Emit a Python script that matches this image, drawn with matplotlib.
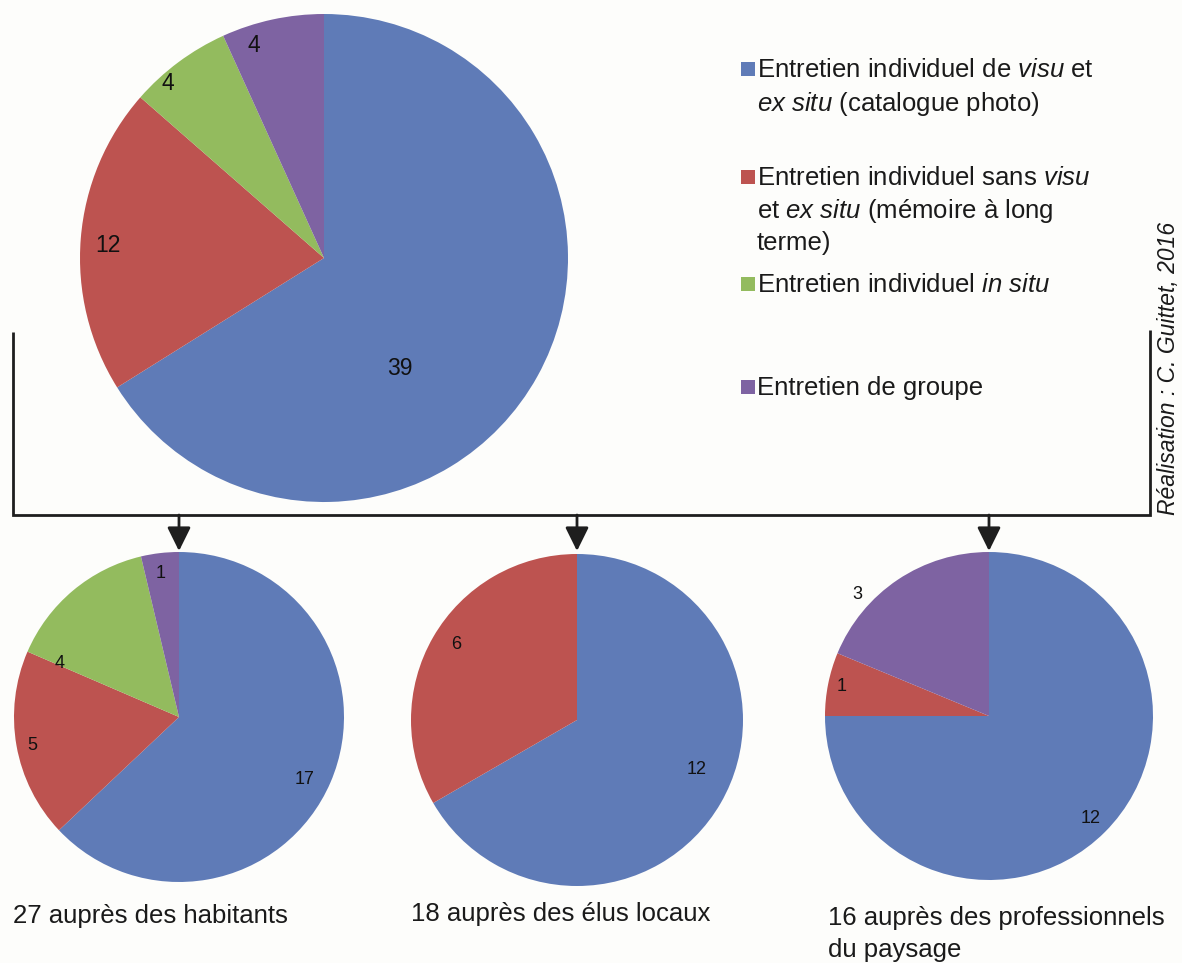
import matplotlib
matplotlib.use("Agg")
import matplotlib.pyplot as plt

plt.rcParams['font.family'] = ['Liberation Sans', 'DejaVu Sans']
plt.rcParams['mathtext.fontset'] = 'custom'
plt.rcParams['mathtext.rm'] = 'Liberation Sans'
plt.rcParams['mathtext.it'] = 'Liberation Sans:italic'

# ---------------- data ----------------
categories = [
    "Entretien individuel de visu et ex situ (catalogue photo)",
    "Entretien individuel sans visu et ex situ (mémoire à long terme)",
    "Entretien individuel in situ",
    "Entretien de groupe",
]
total_values = [39, 12, 4, 4]
habitants_values = [17, 5, 4, 1]
elus_values = [12, 6, 0, 0]
pro_values = [12, 1, 0, 3]
captions = ["27 auprès des habitants", "18 auprès des élus locaux",
            "16 auprès des professionnels", "du paysage"]
credit = "Réalisation : C. Guittet, 2016"

colors = ["#5F7BB7", "#BD5350", "#93BB5E", "#7E63A2"]
BG = "#FDFDFB"

W, H = 1182, 963
fig = plt.figure(figsize=(W / 100, H / 100), dpi=100, facecolor=BG)
ax = fig.add_axes([0, 0, 1, 1])
ax.set_facecolor(BG)


def Y(y):
    return H - y


def draw_pie(values, cx, cy, r, label_pos, fs):
    ax.pie(values, colors=colors, startangle=90, counterclock=False,
           center=(cx, Y(cy)), radius=r, frame=True,
           wedgeprops=dict(linewidth=0))
    for v, pos in zip(values, label_pos):
        if v > 0 and pos is not None:
            ax.text(pos[0], Y(pos[1]), str(v), fontsize=fs, color="#111111",
                    ha="center", va="center")


draw_pie(total_values, 324, 258, 244,
         [(400, 368), (108, 245), (168, 83), (254, 45)], 16.5)
draw_pie(habitants_values, 179, 717, 165,
         [(305, 779), (32, 745), (60, 663), (161, 573)], 13)
draw_pie(elus_values, 577, 720, 166,
         [(697, 769), (456, 644), None, None], 13)
draw_pie(pro_values, 989, 716, 164,
         [(1091, 818), (842, 686), None, (857, 594)], 13)

# bracket and arrows
lc = "#1E1E1E"
ax.plot([13, 13, 1150, 1150], [Y(332), Y(515), Y(515), Y(330)],
        color=lc, lw=2.0, solid_joinstyle="miter", solid_capstyle="butt")
for x in (179, 577, 989):
    ax.annotate("", xy=(x, Y(551)), xytext=(x, Y(515)),
                arrowprops=dict(arrowstyle="-|>,head_length=0.85,head_width=0.42",
                                color=lc, lw=2.0, mutation_scale=17,
                                shrinkA=0, shrinkB=0))

# legend
legend_lines = [
    (77, r"Entretien individuel de $\mathit{visu}$ et"),
    (111, r"$\mathit{ex\ situ}$ (catalogue photo)"),
    (185, r"Entretien individuel sans $\mathit{visu}$"),
    (218, r"et $\mathit{ex\ situ}$ (mémoire à long"),
    (250, r"terme)"),
    (292, r"Entretien individuel $\mathit{in\ situ}$"),
    (395, r"Entretien de groupe"),
]
for yb, s in legend_lines:
    ax.text(757, Y(yb), s, fontsize=18.5, color="#1A1A1A", ha="left",
            va="baseline")
square_y = [69, 177, 284, 387]
for c, yc in zip(colors, square_y):
    ax.add_patch(plt.Rectangle((741, Y(yc) - 7), 14, 14, facecolor=c,
                               edgecolor="none"))

# captions
cap_fs = 18.5
ax.text(13, Y(923), captions[0], fontsize=cap_fs, color="#1A1A1A", va="baseline")
ax.text(411, Y(921), captions[1], fontsize=cap_fs, color="#1A1A1A", va="baseline")
ax.text(828, Y(925), captions[2], fontsize=cap_fs, color="#1A1A1A", va="baseline")
ax.text(828, Y(957), captions[3], fontsize=cap_fs, color="#1A1A1A", va="baseline")

# credit
ax.text(1168, Y(368), credit, fontsize=16.5, style="italic", color="#1A1A1A",
        rotation=90, ha="center", va="center")

ax.set_xlim(0, W)
ax.set_ylim(0, H)
ax.set_aspect("equal", adjustable="box")
ax.axis("off")

fig.savefig("out.png", dpi=100, facecolor=BG)
